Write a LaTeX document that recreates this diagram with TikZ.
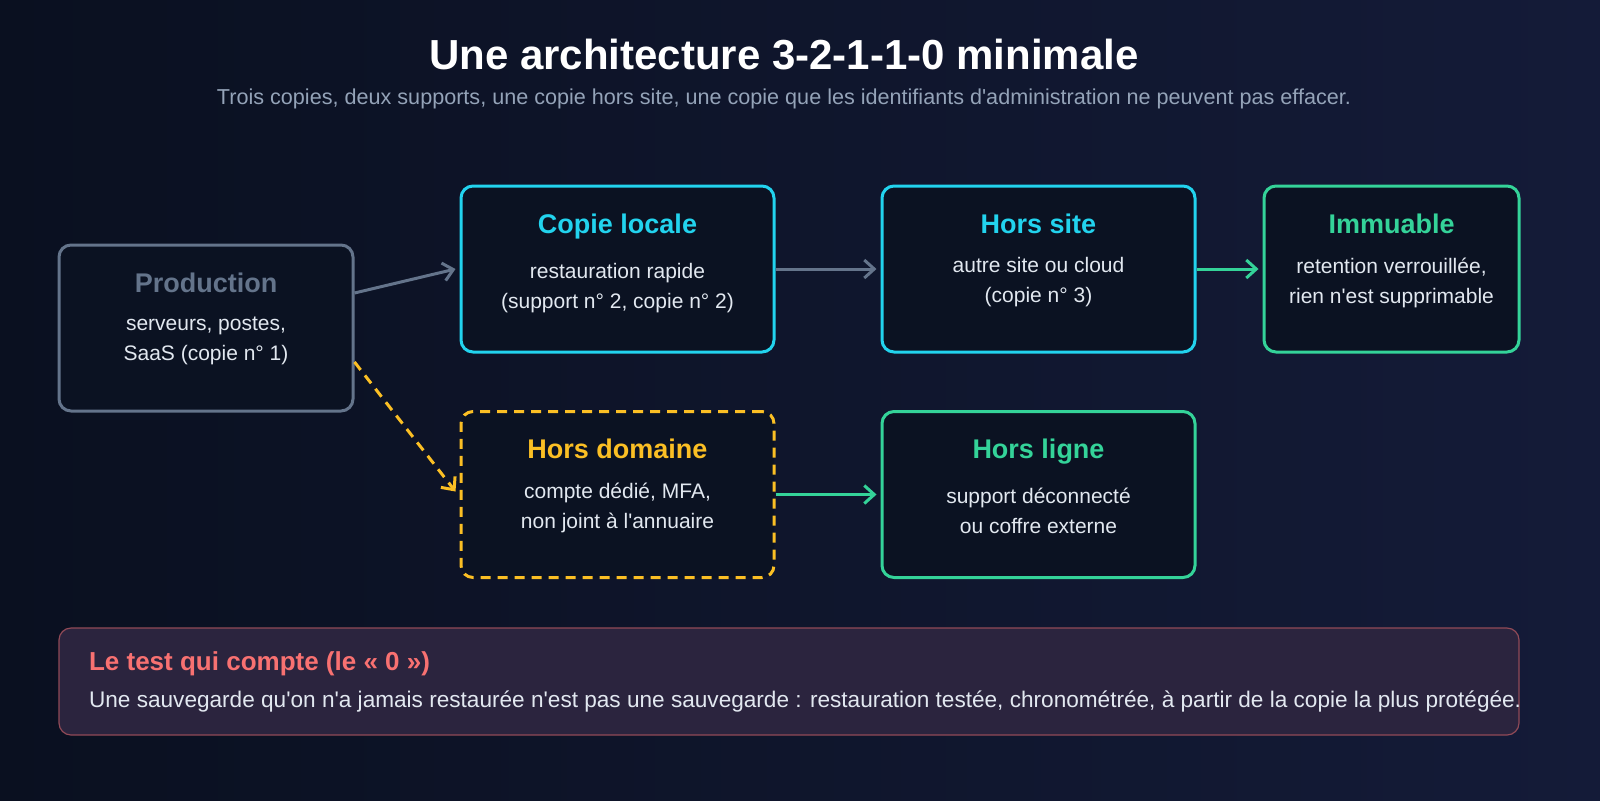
\documentclass[tikz,border=0pt]{standalone}
\usepackage{fontspec}
\setmainfont{Liberation Sans}[Ligatures=TeXOff]
\usetikzlibrary{arrows.meta,positioning}
\definecolor{bgA}{HTML}{0A1020}
\definecolor{bgB}{HTML}{141B38}
\definecolor{boxfill}{HTML}{0B1222}
\definecolor{cyanc}{HTML}{22D3EE}
\definecolor{greenc}{HTML}{34D399}
\definecolor{yellowc}{HTML}{FBBF24}
\definecolor{grayc}{HTML}{64748B}
\definecolor{redc}{HTML}{F87171}
\definecolor{subc}{HTML}{94A3B8}
\definecolor{bodyc}{HTML}{E2E8F0}
\tikzset{
  stage/.style={draw=#1, line width=1.5pt, fill=boxfill, rounded corners=6pt, inner sep=0pt},
  stagetitle/.style={text=#1, font=\bfseries\fontsize{13.5}{16}\selectfont, anchor=north},
  stagebody/.style={text=bodyc, font=\fontsize{10.5}{15}\selectfont, align=center, anchor=north},
  flow/.style={line width=1.5pt, draw=#1, -{Straight Barb[length=5pt,width=9pt]}}
}
\begin{document}
\begin{tikzpicture}[x=0.5pt,y=-0.5pt]
\shade[left color=bgA, right color=bgB] (0,0) rectangle (1600,800);
\useasboundingbox (0,0) rectangle (1600,800);
% heading
\node[text=white, font=\bfseries\fontsize{21}{24}\selectfont] (title) at (784,55) {Une architecture 3-2-1-1-0 minimale};
\node[text=subc, font=\fontsize{10.8}{13}\selectfont] (subtitle) at (784,99) {Trois copies, deux supports, une copie hors site, une copie que les identifiants d'administration ne peuvent pas effacer.};
% stages
\node[stage=grayc, minimum width=147pt, minimum height=83pt] (prod) at (206,328) {};
\node[stage=cyanc, minimum width=156.5pt, minimum height=83pt] (local) at (617.5,269) {};
\node[stage=cyanc, minimum width=156.5pt, minimum height=83pt] (site) at (1038.5,269) {};
\node[stage=greenc, minimum width=127.5pt, minimum height=83pt] (immu) at (1391.5,269) {};
\node[stage=yellowc, dashed, dash pattern=on 5pt off 3.5pt, minimum width=156.5pt, minimum height=83pt] (domaine) at (617.5,494.5) {};
\node[stage=greenc, minimum width=156.5pt, minimum height=83pt] (ligne) at (1038.5,494.5) {};
% texts
\node[stagetitle=grayc] (prodT) at ([yshift=-11pt]prod.north) {Production};
\node[stagebody] (prodB) at ([yshift=-5pt]prodT.south) {serveurs, postes,\\SaaS (copie n° 1)};
\node[stagetitle=cyanc] (localT) at ([yshift=-11pt]local.north) {Copie locale};
\node[stagebody] (localB) at ([yshift=-5pt]localT.south) {restauration rapide\\(support n° 2, copie n° 2)};
\node[stagetitle=cyanc] (siteT) at ([yshift=-11pt]site.north) {Hors site};
\node[stagebody] (siteB) at ([yshift=-5pt]siteT.south) {autre site ou cloud\\(copie n° 3)};
\node[stagetitle=greenc] (immuT) at ([yshift=-11pt]immu.north) {Immuable};
\node[stagebody] (immuB) at ([yshift=-5pt]immuT.south) {retention verrouillée,\\rien n'est supprimable};
\node[stagetitle=yellowc] (domaineT) at ([yshift=-11pt]domaine.north) {Hors domaine};
\node[stagebody] (domaineB) at ([yshift=-5pt]domaineT.south) {compte dédié, MFA,\\non joint à l'annuaire};
\node[stagetitle=greenc] (ligneT) at ([yshift=-11pt]ligne.north) {Hors ligne};
\node[stagebody] (ligneB) at ([yshift=-5pt]ligneT.south) {support déconnecté\\ou coffre externe};
% flows
\draw[flow=grayc] ([yshift=17.5pt]prod.east) -- ([xshift=-2pt]local.west);
\draw[flow=grayc] (local.east) -- ([xshift=-2pt]site.west);
\draw[flow=greenc] (site.east) -- ([xshift=-2pt]immu.west);
\draw[flow=yellowc, dashed, dash pattern=on 5pt off 3.5pt] ([yshift=-17pt]prod.east) -- ([xshift=-2pt,yshift=1.5pt]domaine.west);
\draw[flow=greenc] (domaine.east) -- ([xshift=-2pt]ligne.west);
% bottom note
\node[draw=redc!55!bgB, fill=redc!10!bgB, rounded corners=6pt, line width=0.6pt, minimum width=730pt, minimum height=53.5pt] (note) at (789,681.5) {};
\node[text=redc, font=\bfseries\fontsize{13}{15}\selectfont, anchor=west] (noteT) at (82,664) {Le test qui compte (le « 0 »)};
\node[text=bodyc, font=\fontsize{11.3}{14}\selectfont, anchor=west] (noteB) at (82,702) {Une sauvegarde qu'on n'a jamais restaurée n'est pas une sauvegarde : restauration testée, chronométrée, à partir de la copie la plus protégée.};
\end{tikzpicture}
\end{document}
